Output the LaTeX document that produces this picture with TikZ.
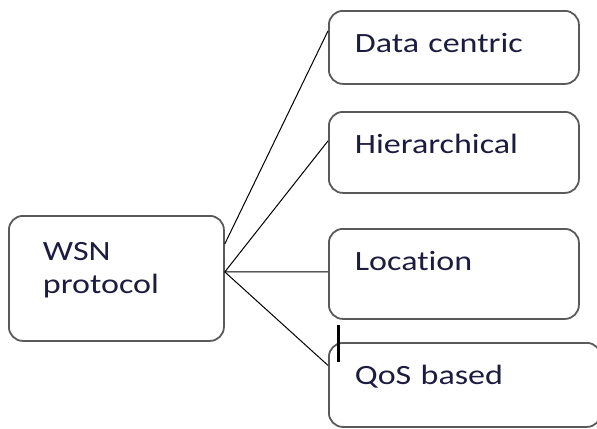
\documentclass[tikz,border=0pt]{standalone}
\usepackage{fontspec}
\setmainfont{Carlito}[FakeStretch=1.22, Ligatures={NoCommon}]
\usetikzlibrary{positioning}
\definecolor{txtnavy}{RGB}{28,28,64}
\definecolor{boxgray}{RGB}{90,90,90}

\begin{document}
\begin{tikzpicture}[x=1bp,y=-1bp,line width=1bp]

  \tikzstyle{every node} = [font=\fontsize{28}{33}\selectfont, text=txtnavy]
  \tikzstyle{proto} = [draw=boxgray, line width=1.8bp, rounded corners=14bp,
                       anchor=north west, align=left, inner xsep=26bp,
                       inner ysep=0pt, text width=198bp, text height=42bp]
  \useasboundingbox (0,0) rectangle (597,428);

  \node[proto, inner xsep=34bp, text width=147bp, text height=45bp,
        text depth=80bp]     (W) at (8,215)   {WSN\\protocol};
  \node[proto, text depth=31bp] (D) at (328,10)  {Data centric};
  \node[proto, text depth=39bp] (H) at (328,111) {Hierarchical};
  \node[proto, text depth=48bp] (L) at (328,228) {Location};
  \node[proto, text depth=42bp, text width=220bp] (Q) at (328,342) {QoS based};

  \path ([yshift=34.5bp]W.east) edge[draw] ([yshift=16.5bp]D.west)
        ([yshift=6.5bp]W.east)  edge[draw] ([yshift=11.5bp]H.west)
        ([yshift=6.5bp]W.east)  edge[draw] ([yshift=2bp]L.west)
        ([yshift=6.5bp]W.east)  edge[draw] ([yshift=19.5bp]Q.west);

  % stray mark
  \draw[line width=3bp] (338,325) -- (338,362);

\end{tikzpicture}
\end{document}
